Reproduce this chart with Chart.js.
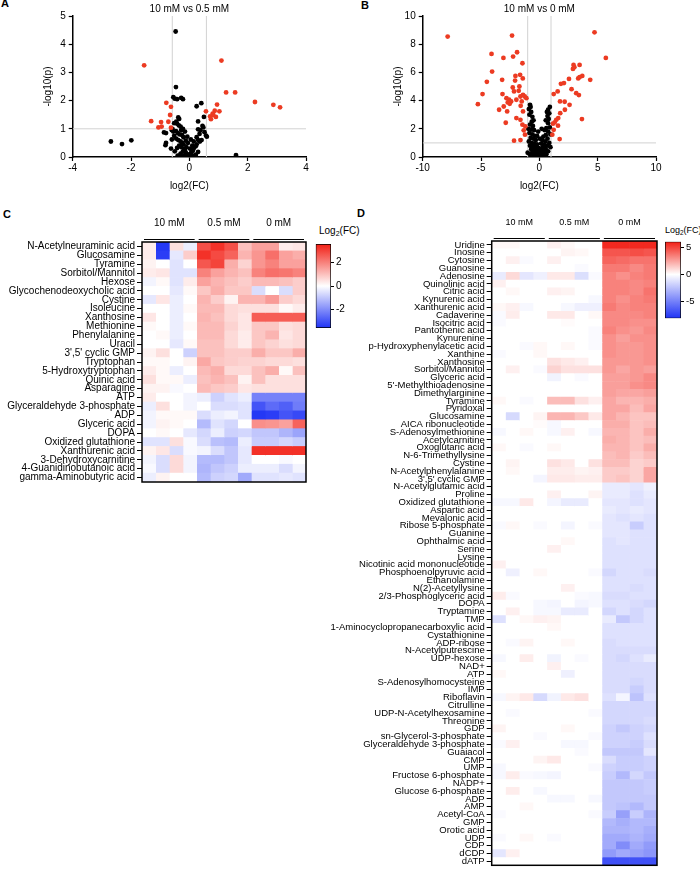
<!DOCTYPE html>
<html>
<head>
<meta charset="utf-8">
<script src="https://cdn.jsdelivr.net/npm/chart.js@4.4.1/dist/chart.umd.min.js"></script>
<style>
  body { margin: 0; background: #fff; }
  #page { position: relative; width: 700px; height: 873px; overflow: hidden;
          font-family: "Liberation Sans", Arial, sans-serif; color: #000; }
  #page canvas, #page .lbl { position: absolute; }
  .panel { font-weight: bold; font-size: 11px; line-height: 13px; }
  .cbtitle { line-height: 12px; white-space: nowrap; }
  .cbtitle sub { font-size: 70%; vertical-align: -2px; line-height: 0; }
</style>
</head>
<body>
<div id="page">
  <div class="lbl panel" style="left:1px;top:-3px">A</div>
  <div class="lbl panel" style="left:361px;top:-1px">B</div>
  <div class="lbl panel" style="left:3px;top:208px">C</div>
  <div class="lbl panel" style="left:357px;top:207px">D</div>
  <div class="lbl cbtitle" style="left:319px;top:225px;font-size:10px">Log<sub>2</sub>(FC)</div>
  <div class="lbl cbtitle" style="left:665px;top:224px;font-size:9px">Log<sub>2</sub>(FC)</div>

  <canvas id="volA" width="340" height="194" style="left:0;top:0"></canvas>
  <canvas id="volB" width="340" height="194" style="left:350px;top:0"></canvas>
  <canvas id="heatC" width="312" height="295" style="left:0;top:195px"></canvas>
  <canvas id="barC" width="40" height="100" style="left:312px;top:236px"></canvas>
  <canvas id="heatD" width="342" height="678" style="left:320px;top:195px"></canvas>
  <canvas id="barD" width="39" height="92" style="left:661px;top:234px"></canvas>
</div>
<script>
// ---------- volcano data: [log2(FC), -log10(p)] ----------
const volA_title = '10 mM vs 0.5 mM';
const volA_red = [[-1.55,3.25],[1.10,3.42],[1.26,2.29],[1.57,2.29],[2.25,1.95],[2.88,1.85],[3.11,1.76],
  [-0.79,1.92],[-0.63,1.78],[-1.31,1.27],[-0.97,1.24],[-1.06,1.05],[-0.95,1.08],[-0.66,1.49],[-0.72,1.25],
  [-0.63,1.04],[0.57,1.62],[0.95,1.86],[0.87,1.64],[0.80,1.54],[0.71,1.44],[1.03,1.62],[0.91,1.42],
  [0.74,1.34],[0.82,1.49]];
const volA_black = [[-0.47,4.45],[-0.46,2.48],[-0.55,2.12],[-0.5,2.07],[-0.42,2.05],[-0.28,2.1],[-0.22,2.05],
  [0.41,1.91],[0.25,1.8],[0.5,1.42],[0.3,1.26],[0.45,1.1],[0.48,1.05],[0.38,0.95],[0.35,0.82],[0.52,0.88],
  [0.57,0.76],[0.6,0.72],[0.42,0.6],[0.3,0.6],[0.36,0.55],[0.25,0.45],[0.22,0.38],[0.15,0.3],[0.12,0.22],
  [0.3,0.18],[0.22,0.08],[-2.69,0.55],[-2.31,0.46],[-1.99,0.59],[1.6,0.07],
  [-0.38,1.4],[-0.35,1.35],[-0.45,1.25],[-0.52,1.2],[-0.42,1.18],[-0.36,1.12],[-0.3,1.08],[-0.58,1.0],
  [-0.6,0.95],[-0.55,0.9],[-0.46,0.92],[-0.4,0.85],[-0.33,0.8],[-0.25,0.78],[-0.2,0.7],[-0.87,0.87],
  [-0.8,0.85],[-0.8,0.5],[-0.82,0.42],[-0.63,0.3],[-0.6,0.62],[-0.45,0.65],[-0.38,0.6],[-0.3,0.55],
  [-0.25,0.5],[-0.2,0.45],[-0.35,0.4],[-0.28,0.35],[-0.42,0.32],[-0.18,0.3],[-0.15,0.25],[-0.22,0.2],
  [-0.12,0.15],[-0.3,0.12],[-0.08,0.1],[-0.18,0.06],[-0.05,0.04],[0,0.08],[0.05,0.12],[0.08,0.2],
  [-0.1,0.35],[0.02,0.3],[0.1,0.4],[-0.05,0.5],[-0.12,0.58],[0.05,0.62],[-0.28,0.95],[-0.22,1.0],
  [-0.15,0.9],[0.3,0.98],[0.25,0.7],[0.15,0.55],[-0.4,0.05],[-0.3,0.02],[0.12,0.05],[-0.5,0.2],
  [-0.52,0.75],[-0.07,0.72]];
const volA_xTicks = [-4, -2, 0, 2, 4];
const volA_yTicks = [0, 1, 2, 3, 4, 5];
const volA_fcCut = 0.585;

const volB_title = '10 mM vs 0 mM';
const volB_red = [[-7.86,8.54],[-2.34,8.61],[4.73,8.84],[5.70,7.03],[-4.10,7.31],[-1.91,7.43],[-2.25,7.12],
  [-3.08,7.03],[-1.45,6.65],[-4.05,6.06],[-2.05,5.75],[-1.65,5.83],[-1.42,5.57],[-2.08,5.42],[-3.19,5.47],
  [-4.50,5.33],[-2.28,4.93],[-1.71,5.00],[-2.17,4.65],[-1.77,4.69],[-1.40,4.41],[-1.25,4.29],[-1.11,4.17],
  [-4.87,4.46],[-3.16,4.46],[-5.27,3.75],[-2.82,4.17],[-2.59,4.06],[-2.71,3.87],[-2.42,3.94],[-2.54,3.77],
  [-1.97,4.06],[-1.62,4.29],[-1.51,3.94],[-3.45,3.35],[-3.05,3.58],[-2.76,3.23],[-1.60,3.63],[-1.40,3.23],
  [-2.88,2.43],[-1.97,2.76],[-1.62,2.64],[-1.45,2.29],[-1.20,2.17],[-1.34,1.89],[-1.23,1.58],[-2.17,1.16],
  [-1.62,1.20],
  [2.93,6.53],[2.88,6.25],[3.0,6.37],[3.45,6.53],[3.33,5.57],[3.68,5.75],[3.45,5.66],[4.36,5.47],
  [2.54,5.54],[1.85,5.19],[2.11,5.24],[1.57,4.65],[1.23,4.46],[2.76,4.81],[3.16,4.53],[3.39,4.39],
  [1.77,3.94],[2.17,3.92],[2.59,3.70],[2.19,3.35],[1.79,3.11],[1.62,2.76],[1.45,2.64],[1.31,2.45],
  [1.17,2.36],[1.60,2.22],[3.65,2.69],[1.23,1.93],[1.11,1.58],[1.74,1.27]];
const volB_black = [[-0.8,3.7],[-0.75,3.55],[-0.9,3.4],[-0.7,3.2],[-0.85,3.0],[-0.6,2.85],[-0.5,2.6],
  [-0.65,2.5],[-0.8,2.3],[-0.55,2.2],[-0.95,2.0],[-0.7,1.95],[-0.45,1.9],[-0.85,1.7],[-0.6,1.6],[-0.4,1.5],
  [-0.75,1.35],[-0.5,1.3],[-0.3,1.2],[-0.9,1.1],[-0.65,1.0],[-0.45,0.95],[-0.2,0.9],[-0.8,0.8],[-0.55,0.75],
  [-0.35,0.7],[-0.1,0.65],[-0.7,0.55],[-0.45,0.5],[-0.25,0.45],[-0.05,0.4],[-0.6,0.35],[-0.35,0.3],
  [-0.15,0.25],[0.05,0.2],[-0.5,0.15],[-0.25,0.1],[0.0,0.08],[-0.8,0.2],[-1.0,0.3],[0.15,0.1],[0.3,0.15],
  [0.9,3.55],[0.75,3.35],[0.85,3.1],[0.65,3.2],[0.7,2.9],[0.8,2.7],[0.55,2.6],[0.75,2.4],[0.9,2.1],
  [0.6,2.05],[0.45,1.9],[0.75,1.8],[0.95,1.6],[0.55,1.55],[0.35,1.45],[0.7,1.3],[0.25,1.2],[0.5,1.1],
  [0.85,1.0],[0.15,0.95],[0.4,0.85],[0.65,0.8],[0.3,0.7],[0.1,0.6],[0.55,0.55],[0.25,0.45],[0.75,0.4],
  [0.4,0.3],[0.6,0.2],[0.2,0.3],[0.95,0.7],[0.45,0.05],[-0.2,1.5],[0.05,1.3],[-0.1,1.8],[0.2,2.0]];
const volB_xTicks = [-10, -5, 0, 5, 10];
const volB_yTicks = [0, 2, 4, 6, 8, 10];
const volB_fcCut = 1;

const pCut = 1;

// ---------- heatmaps (log2 FC), columns: 4 x 10 mM, 4 x 0.5 mM, 4 x 0 mM ----------
const groupNames = ['10 mM', '0.5 mM', '0 mM'];

const heatC_labels = ['N-Acetylneuraminic acid','Glucosamine','Tyramine','Sorbitol/Mannitol','Hexose',
  'Glycochenodeoxycholic acid','Cystine','Isoleucine','Xanthosine','Methionine','Phenylalanine','Uracil',
  "3',5' cyclic GMP",'Tryptophan','5-Hydroxytryptophan','Quinic acid','Asparagine','ATP',
  'Glyceraldehyde 3-phosphate','ADP','Glyceric acid','DOPA','Oxidized glutathione','Xanthurenic acid',
  '3-Dehydroxycarnitine','4-Guanidinobutanoic acid','gamma-Aminobutyric acid'];
const heatC_values = [
  [0.3,-3.5,0.5,-0.3, 2.8,3.3,2.8,1.0, 1.5,1.5,0.3,0.4],
  [0.3,-3.4,-0.4,0.8, 3.3,2.9,2.5,1.2, 1.7,2.3,1.5,1.3],
  [0.2,0,-0.5,0, 2.7,3.0,1.3,0.7, 1.7,2.0,1.5,1.5],
  [0.3,0.4,-0.5,-0.5, 2.0,1.5,1.2,1.0, 2.0,2.3,2.2,2.0],
  [-0.2,0.1,-0.5,0.3, 1.5,1.2,1.0,0.8, 1.1,1.1,1.0,0.8],
  [0,0,-0.4,0.1, 0.9,1.3,0.9,0.9, -0.6,0,-0.6,0.8],
  [-0.4,0.4,-0.3,0, 1.2,0.8,0.2,1.2, 1.2,1.6,0.8,0.6],
  [0,0,-0.3,0.1, 1.1,1.1,0.6,0.5, 0.5,0.5,0.1,0.3],
  [0.4,0,-0.3,0, 1.2,1.0,0.6,0.4, 2.6,2.6,2.6,2.6],
  [0.1,0,-0.3,0.1, 1.1,1.1,0.7,0.4, 0.9,0.9,0.5,0.6],
  [0,0.1,-0.3,0, 1.1,1.1,0.6,0.3, 0.9,1.2,0.4,0.6],
  [0,0,-0.4,0.1, 1.0,1.0,0.6,0.3, 0.9,0.7,0.5,0.6],
  [0.2,0.5,0,-0.8, 1.0,1.0,0.8,0.8, 1.3,0.9,0.9,1.3],
  [0.1,0.1,0,0.2, 1.4,0.9,0.8,0.7, 0.7,0.6,0.6,0.5],
  [0.3,0.1,-0.3,0, 1.1,1.3,0.6,0.6, 1.0,1.3,0.1,1.0],
  [0.5,0.1,0.1,-0.3, 1.0,1.2,1.0,0.2, 1.0,0.5,0.5,0.5],
  [0.2,0.2,-0.1,0, 1.1,0.9,0.8,0.4, 0.5,0.5,0.5,0.5],
  [0.3,0,0,-0.2, -0.3,-0.8,-0.5,-0.3, -2.2,-2.2,-2.2,-2.2],
  [-0.3,0.5,0,-0.2, 0,-0.6,-0.6,-0.5, -3.0,-2.6,-2.8,-2.3],
  [-0.2,0.1,0.1,0.1, -0.6,-0.3,-0.2,-0.5, -3.5,-3.4,-3.0,-3.2],
  [-0.2,0.2,0.1,0, -1.2,-0.5,-0.7,0, 1.8,1.7,1.5,2.5],
  [0,0.1,0,-0.4, -0.7,-0.3,-0.8,-0.7, -1.0,-1.0,-1.3,-1.6],
  [-0.5,-0.5,0.5,-0.1, -0.6,-1.1,-1.2,-0.3, -0.9,-0.9,-0.7,-0.9],
  [0.2,0.4,-0.6,-0.1, -0.2,-0.6,-1.0,-0.4, 3.3,3.3,3.3,3.3],
  [-0.2,-0.6,0.6,-0.2, -1.2,-1.2,-1.0,-0.4, 0,0,-0.1,0],
  [-0.1,-0.6,0.6,-0.2, -1.3,-1.0,-0.8,-0.3, -0.3,-0.3,-0.6,-0.2],
  [-0.3,0.2,0,0, -1.2,-0.8,-0.7,-1.5, -0.5,-0.5,-0.4,-0.5]];
const heatC_range = [-3.6, 3.6];
const heatC_barTicks = [-2, 0, 2];

const heatD_labels = ['Uridine','Inosine','Cytosine','Guanosine','Adenosine','Quinolinic acid','Citric acid',
  'Kynurenic acid','Xanthurenic acid','Cadaverine','Isocitric acid','Pantothenic acid','Kynurenine',
  'p-Hydroxyphenylacetic acid','Xanthine','Xanthosine','Sorbitol/Mannitol','Glyceric acid',
  "5'-Methylthioadenosine",'Dimethylarginine','Tyramine','Pyridoxal','Glucosamine','AICA ribonucleotide',
  'S-Adenosylmethionine','Acetylcarnitine','Oxoglutaric acid','N-6-Trimethyllysine','Cystine',
  'N-Acetylphenylalanine',"3',5' cyclic GMP",'N-Acetylglutamic acid','Proline','Oxidized glutathione',
  'Aspartic acid','Mevalonic acid','Ribose 5-phosphate','Guanine','Ophthalmic acid','Serine','Lysine',
  'Nicotinic acid mononucleotide','Phosphoenolpyruvic acid','Ethanolamine','N(2)-Acetyllysine',
  '2/3-Phosphoglyceric acid','DOPA','Tryptamine','TMP','1-Aminocyclopropanecarboxylic acid','Cystathionine',
  'ADP-ribose','N-Acetylputrescine','UDP-hexose','NAD+','ATP','S-Adenosylhomocysteine','IMP','Riboflavin',
  'Citrulline','UDP-N-Acetylhexosamine','Threonine','GDP','sn-Glycerol-3-phosphate',
  'Glyceraldehyde 3-phosphate','Guaiacol','CMP','UMP','Fructose 6-phosphate','NADP+','Glucose 6-phosphate',
  'ADP','AMP','Acetyl-CoA','GMP','Orotic acid','UDP','CDP','dCDP','dATP'];
const heatD_values = [
  [0.2,0.2,0,0, 0.4,0.2,0,0, 5.8,5.8,5.8,5.8],
  [0,0,0,0, 0,0.3,0.2,0, 4.6,4.6,4.8,4.6],
  [0,0.4,-0.2,0, 0.4,0,0,0, 4.2,4.0,3.8,3.8],
  [0,0,0,0, 0,0,-0.2,0, 3.6,3.6,3.2,3.6],
  [-0.8,1.0,-1.0,-0.6, 0.6,0.6,-1.3,-0.2, 3.4,3.0,3.4,3.6],
  [0.4,0,0,0, 0,0,0,0, 3.4,3.4,3.2,3.4],
  [0,0.2,0,0, 0.4,0.3,0,0, 3.4,3.4,3.2,3.8],
  [0,0,0,0, 0,0,0,-0.3, 3.4,3.0,3.4,3.6],
  [0.2,0.4,-0.3,0, 0,-0.3,-0.6,-0.6, 3.6,3.2,3.4,3.4],
  [-0.2,0.5,0,0, 0.6,0.6,0,0.2, 3.2,3.2,3.2,3.4],
  [-0.2,0,0,0, 0,0.1,0,0, 3.2,3.2,3.0,3.0],
  [0,0,0,0, 0,0,0,-0.2, 3.4,3.0,2.8,3.2],
  [0,0,0,0, 0,0,0,-0.2, 3.0,2.6,3.0,3.0],
  [0,0,-0.2,0.2, 0,0.2,0,-0.2, 3.0,2.8,2.8,3.0],
  [-0.2,0,0,0.2, 0,0,0,0, 3.0,2.8,2.8,3.0],
  [0,0,0,0, 0.8,0.6,0.4,0, 2.8,2.8,2.8,3.0],
  [0,0.4,0,-0.2, 1.2,0.8,0.8,0.8, 2.8,2.4,2.8,2.6],
  [0,0,0,0, -0.5,0,-0.2,0, 2.6,2.6,2.8,3.2],
  [0,0,0,0, 0,0,0,0, 2.6,2.6,3.0,3.2],
  [0,0,0,0, 0,0,0,0, 2.6,2.4,2.4,2.6],
  [0.2,0,-0.2,0, 1.8,1.8,0.8,0.4, 2.4,2.0,2.0,2.2],
  [0,0,0,0, 0,0,0,0, 2.4,2.4,1.8,2.4],
  [0,-1.5,0,0.3, 2.0,2.0,1.5,0.6, 2.4,2.0,1.6,1.6],
  [0,0,0,0.1, -0.3,0,0,0, 2.2,2.2,1.6,1.8],
  [-0.3,0,0.2,0, -0.3,0.4,0,-0.3, 2.0,2.0,1.6,2.2],
  [0,0,0,0, 0,0,0,0, 2.2,2.0,1.6,1.8],
  [0.2,0,-0.2,0, 0.2,0,0,0, 2.0,2.0,1.6,2.2],
  [0,0,0,0, 0,0,0,0, 1.8,2.0,1.4,1.8],
  [0,0.3,0,0, 0.8,0.6,0,0.8, 1.8,1.8,1.2,1.4],
  [0,0.2,0,0, 0.5,0.5,0.3,0.4, 1.4,1.4,1.2,2.4],
  [0,0,0,-0.4, 0.6,0.6,0.5,0.5, 1.4,1.6,1.2,2.4],
  [0,0,0,0, 0,0,0,0, -0.8,-0.8,-1.0,-0.6],
  [0,0,0,0, 0.4,0,0,0.3, -0.8,-0.8,-1.2,-0.8],
  [-0.3,-0.3,0.6,0, -0.4,-0.8,-0.8,0, -1.0,-1.0,-1.2,-1.0],
  [0,0,0,0, 0,0,0,0, -0.8,-1.0,-0.8,-1.0],
  [0,0,0,0, 0,0,0,0, -1.0,-1.2,-1.0,-1.2],
  [-0.2,0.2,0,-0.2, 0,-0.4,0,-0.2, -1.0,-1.0,-2.0,-1.2],
  [0,0,0,0, 0,0,0,0, -1.0,-1.0,-1.2,-1.2],
  [0,0,0,0, 0,0.2,0,0, -1.2,-1.0,-1.2,-1.2],
  [0,0,0,0, 0.4,0,0,0, -1.2,-1.2,-1.2,-1.2],
  [0,0,0,0, 0,0,0,0, -1.2,-1.2,-1.2,-1.2],
  [0.4,0,0,0, 0,0,0,0, -1.2,-1.2,-1.2,-1.2],
  [0,-0.6,0,0.2, 0,0,0,-0.2, -1.6,-1.2,-1.2,-1.4],
  [0,0,0,0, 0,0,0,0, -1.2,-1.2,-1.2,-1.2],
  [0,0,0,0, 0,0.4,0,0, -1.2,-1.2,-1.4,-1.2],
  [0.5,-0.2,0,0, 0,0,-0.2,-0.3, -1.4,-1.4,-1.2,-1.2],
  [0,0,0,-0.3, -0.4,0,-0.4,-0.3, -1.2,-1.2,-1.4,-1.6],
  [0,0.4,0,-0.3, -0.3,-0.8,-0.8,0, -1.6,-1.2,-1.6,-1.2],
  [-1.2,0,0.2,0.4, 0.3,0,0,0, -0.8,-2.2,-1.6,-1.2],
  [0,0,0,0, 0.2,0,0,0, -1.2,-1.2,-1.2,-1.2],
  [0,0,0,0, 0,0,0,0, -1.2,-1.2,-1.2,-1.2],
  [0,-0.2,0.3,0, 0,0.2,0,0, -1.4,-1.2,-1.2,-1.2],
  [0,0,0,0, 0,0,0,0, -1.4,-1.4,-1.4,-1.4],
  [-0.3,0,0.5,0, -0.5,0,-0.2,0, -1.4,-1.6,-1.2,-0.8],
  [0,0,0,0, 0.4,0,0,0, -1.4,-1.4,-1.4,-1.4],
  [0.2,0,0,0, 0,-0.6,0,0, -1.4,-1.4,-1.4,-1.4],
  [0,0,0,0, 0,0,0,0, -1.4,-1.4,-1.6,-1.4],
  [0,0,0,0, 0,0,0,0, -1.4,-1.4,-2.0,-1.4],
  [-0.3,0.3,0.6,-1.5, -0.5,0.6,0.8,0, -1.2,-0.4,-2.4,-1.2],
  [0,0,0,0, 0,0,0,0, -1.6,-1.6,-1.6,-1.6],
  [0,-0.2,0,0, 0,0,0,-0.2, -1.6,-1.6,-1.6,-1.6],
  [0,0,0,0, 0,0,0,0, -1.6,-1.6,-1.6,-1.4],
  [0.3,0,0,0, 0,0.2,0,0, -1.8,-2.2,-1.8,-1.6],
  [0,0,0,-0.2, 0,0,0,-0.2, -1.8,-1.8,-1.8,-1.2],
  [-0.2,0.4,0,0, 0,-0.3,-0.3,0, -1.8,-1.8,-2.0,-1.4],
  [0,0,0,0, 0,0,-0.2,0, -2.2,-2.2,-2.2,-1.0],
  [0,0,0,0.3, 0.6,0,0,0, -1.4,-2.0,-2.0,-1.8],
  [-0.3,0,0,0, 0,0,0,-0.2, -1.8,-2.0,-2.0,-1.8],
  [-0.3,0.5,-0.2,-0.3, -0.4,0,0,0, -2.0,-2.8,-1.6,-2.2],
  [0,0,0,0, 0,0,0,0, -2.2,-2.2,-2.2,-2.0],
  [0,0.5,0,-0.3, 0,0,0,0, -2.2,-2.2,-2.2,-2.0],
  [0,0,0,0, -0.3,-0.3,0,-0.3, -2.2,-2.2,-2.2,-2.2],
  [0,0,0.2,0, 0,0,0,0, -2.2,-2.4,-2.8,-2.2],
  [-0.2,0,0,0, 0,0,0,-0.2, -2.0,-3.8,-2.0,-3.0],
  [0,0,0,0, 0,0,0,0, -2.8,-3.2,-2.8,-2.8],
  [0,0,0,0, 0,0,0,0, -3.0,-3.0,-2.8,-3.2],
  [-0.2,0,0.2,0, -0.2,0,0,0, -3.4,-3.4,-3.0,-3.4],
  [0,0,0,0, 0,0,0,0, -3.4,-4.6,-3.4,-4.0],
  [-1.0,0.4,0,0, 0,0,0,0, -4.0,-3.4,-3.8,-4.2],
  [0,0,0,0, 0,0,0,0, -7.0,-7.0,-7.0,-7.0]];
const heatD_range = [-8.2, 6.1];
const heatD_barTicks = [-5, 0, 5];

// ---------- styling ----------
const FONT = '"Liberation Sans", Arial, sans-serif';
Chart.defaults.font.family = FONT;
Chart.defaults.color = '#000';

const RED = [242, 30, 20];
const BLUE = [30, 50, 245];
const POINT_RED = '#ec3b22';

function heatColor(v, lo, hi) {
  const t = v >= 0 ? Math.min(v / hi, 1) : Math.min(v / lo, 1);
  const c = v >= 0 ? RED : BLUE;
  const mix = (a) => Math.round(255 + (a - 255) * t);
  return 'rgb(' + mix(c[0]) + ',' + mix(c[1]) + ',' + mix(c[2]) + ')';
}

const toPts = (arr) => arr.map(([x, y]) => ({ x, y }));

function makeVolcano(id, title, red, black, xTicks, yTicks, fcCut) {
  const xr = [xTicks[0], xTicks[xTicks.length - 1]];
  const yr = [yTicks[0], yTicks[yTicks.length - 1]];
  const guide = { showLine: true, borderColor: '#d2d2d2', borderWidth: 1, pointRadius: 0, order: 3 };
  new Chart(document.getElementById(id), {
    type: 'scatter',
    data: {
      datasets: [
        { data: toPts(red), backgroundColor: POINT_RED, pointRadius: 2.4, borderWidth: 0, order: 1 },
        { data: toPts(black), backgroundColor: '#000', pointRadius: 2.4, borderWidth: 0, order: 2 },
        { ...guide, data: [{ x: -fcCut, y: yr[0] }, { x: -fcCut, y: yr[1] }] },
        { ...guide, data: [{ x: fcCut, y: yr[0] }, { x: fcCut, y: yr[1] }] },
        { ...guide, data: [{ x: xr[0], y: pCut }, { x: xr[1], y: pCut }] }
      ]
    },
    options: {
      responsive: false,
      animation: false,
      layout: { padding: { left: 40, right: 34, top: 0, bottom: 0 } },
      plugins: {
        legend: { display: false },
        tooltip: { enabled: false },
        title: { display: true, text: title, fullSize: false, color: '#000',
                 font: { size: 10, weight: 'normal' }, padding: { top: 3, bottom: 1 } }
      },
      scales: {
        x: {
          min: xr[0], max: xr[1],
          afterBuildTicks: (s) => { s.ticks = xTicks.map(v => ({ value: v })); },
          border: { color: '#000', width: 1.5 },
          grid: { display: true, drawOnChartArea: false, tickLength: 4, color: '#000', tickColor: '#000', tickWidth: 1.2 },
          ticks: { padding: 1, font: { size: 10 }, color: '#000' },
          title: { display: true, text: 'log2(FC)', font: { size: 10 }, color: '#000', padding: { top: 0, bottom: 2 } },
          afterFit: (s) => { s.height = 37; }
        },
        y: {
          min: yr[0], max: yr[1],
          afterBuildTicks: (s) => { s.ticks = yTicks.map(v => ({ value: v })); },
          border: { color: '#000', width: 1.5 },
          grid: { display: true, drawOnChartArea: false, tickLength: 4, color: '#000', tickColor: '#000', tickWidth: 1.2 },
          ticks: { padding: 3, font: { size: 10 }, color: '#000' },
          title: { display: true, text: '-log10(p)', font: { size: 10 }, color: '#000', padding: { top: 2, bottom: 0 } },
          afterFit: (s) => { s.width = 32.7; }
        }
      }
    }
  });
}

// frame around the heatmap and the short lines under the group names
const heatFrame = {
  id: 'heatFrame',
  afterDatasetsDraw(chart) {
    const { ctx, chartArea: a, scales } = chart;
    ctx.save();
    ctx.strokeStyle = '#000';
    ctx.lineWidth = 1.5;
    ctx.strokeRect(a.left, a.top, a.right - a.left, a.bottom - a.top);
    ctx.lineWidth = 1;
    const yLine = Math.round(a.top - 3) + 0.5;
    for (let g = 0; g < groupNames.length; g++) {
      const x0 = scales.x.getPixelForValue(g * 4) + 2;
      const x1 = scales.x.getPixelForValue(g * 4 + 4) - 2;
      ctx.beginPath();
      ctx.moveTo(x0, yLine);
      ctx.lineTo(x1, yLine);
      ctx.stroke();
    }
    ctx.restore();
  }
};

function makeHeatmap(id, labels, rows, range, o) {
  const nCols = rows[0].length;
  const datasets = [];
  for (let j = 0; j < nCols; j++) {
    datasets.push({
      data: rows.map(() => 1),
      backgroundColor: rows.map(r => heatColor(r[j], range[0], range[1])),
      xAxisID: 'x', yAxisID: 'y',
      barPercentage: 1, categoryPercentage: 1, borderWidth: 0
    });
  }
  new Chart(document.getElementById(id), {
    type: 'bar',
    data: { labels, datasets },
    options: {
      indexAxis: 'y',
      responsive: false,
      animation: false,
      layout: { padding: o.padding },
      plugins: { legend: { display: false }, tooltip: { enabled: false } },
      scales: {
        x: { type: 'linear', stacked: true, min: 0, max: nCols, display: false },
        top: {
          type: 'category', position: 'top', labels: groupNames, offset: true,
          grid: { display: false }, border: { display: false },
          ticks: { padding: 5, color: '#000', font: { size: o.headSize } },
          afterFit: (s) => { s.height = o.headHeight; }
        },
        y: {
          stacked: true,
          grid: { display: true, drawOnChartArea: false, offset: false, tickLength: 5, color: '#000', tickColor: '#000', tickWidth: 1 },
          border: { display: false },
          ticks: { autoSkip: false, padding: o.labelPad, color: '#000', font: { size: o.labelSize } },
          afterFit: (s) => { s.width = o.axisWidth; }
        }
      }
    },
    plugins: [heatFrame]
  });
}

function makeColorbar(id, range, ticks, o) {
  const [lo, hi] = range;
  new Chart(document.getElementById(id), {
    type: 'bar',
    data: {
      labels: [''],
      datasets: [{
        data: [[lo, hi]],
        backgroundColor: (c) => {
          const a = c.chart.chartArea;
          if (!a) return '#fff';
          const g = c.chart.ctx.createLinearGradient(0, a.top, 0, a.bottom);
          g.addColorStop(0, heatColor(hi, lo, hi));
          g.addColorStop(hi / (hi - lo), '#fff');
          g.addColorStop(1, heatColor(lo, lo, hi));
          return g;
        },
        borderColor: '#000', borderWidth: 1, borderSkipped: false,
        barPercentage: 1, categoryPercentage: 1
      }]
    },
    options: {
      responsive: false,
      animation: false,
      layout: { padding: o.padding },
      plugins: { legend: { display: false }, tooltip: { enabled: false } },
      scales: {
        x: { display: false },
        y: {
          position: 'right', min: lo, max: hi,
          afterBuildTicks: (s) => { s.ticks = ticks.map(v => ({ value: v })); },
          grid: { display: true, drawOnChartArea: false, tickLength: 3, color: '#000', tickColor: '#000' },
          border: { display: false },
          ticks: { padding: 2, color: '#000', font: { size: o.fontSize } },
          afterFit: (s) => { s.width = o.axisWidth; }
        }
      }
    }
  });
}

makeVolcano('volA', volA_title, volA_red, volA_black, volA_xTicks, volA_yTicks, volA_fcCut);
makeVolcano('volB', volB_title, volB_red, volB_black, volB_xTicks, volB_yTicks, volB_fcCut);

makeHeatmap('heatC', heatC_labels, heatC_values, heatC_range, {
  padding: { left: 0, top: 20, right: 6, bottom: 5 },
  headSize: 10, headHeight: 27, labelSize: 10, labelPad: 2, axisWidth: 142
});
makeColorbar('barC', heatC_range, heatC_barTicks, {
  padding: { left: 3.7, top: 7, right: 0, bottom: 5.3 }, axisWidth: 21, fontSize: 10
});

makeHeatmap('heatD', heatD_labels, heatD_values, heatD_range, {
  padding: { left: 0, top: 20, right: 5, bottom: 2 },
  headSize: 9, headHeight: 26, labelSize: 9.5, labelPad: 2, axisWidth: 171.7
});
makeColorbar('barD', heatD_range, heatD_barTicks, {
  padding: { left: 4, top: 7, right: 0, bottom: 7 }, axisWidth: 19, fontSize: 9.5
});
</script>
</body>
</html>
